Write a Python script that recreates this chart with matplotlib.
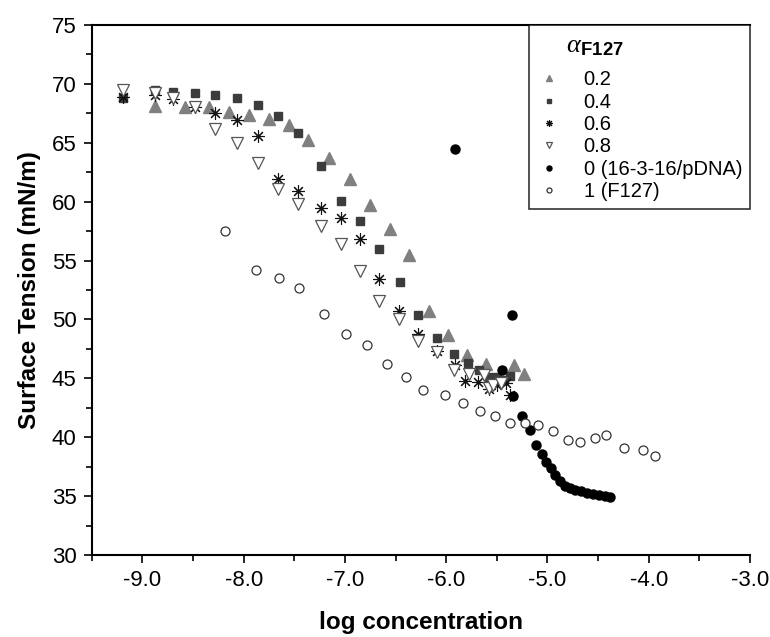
import matplotlib
matplotlib.use("Agg")
import matplotlib.pyplot as plt

plt.rcParams['font.family'] = ['Liberation Sans', 'DejaVu Sans']
plt.rcParams['mathtext.fontset'] = 'custom'
plt.rcParams['mathtext.it'] = 'Liberation Serif:italic'
plt.rcParams['mathtext.rm'] = 'Liberation Serif'
plt.rcParams['mathtext.bf'] = 'Liberation Sans:bold'

# alpha = 0.2
x02 = [-8.88, -8.58, -8.34, -8.14, -7.95, -7.75, -7.55, -7.36, -7.16, -6.95, -6.75,
       -6.55, -6.37, -6.17, -5.98, -5.79, -5.61, -5.33, -5.23]
y02 = [68.1, 68.0, 68.0, 67.6, 67.4, 67.0, 66.5, 65.2, 63.7, 61.9, 59.7,
       57.7, 55.5, 50.7, 48.7, 47.0, 46.2, 46.1, 45.4]
# alpha = 0.4
x04 = [-9.19, -8.88, -8.70, -8.48, -8.28, -8.07, -7.86, -7.66, -7.46, -7.24, -7.04,
       -6.85, -6.66, -6.46, -6.28, -6.09, -5.92, -5.78, -5.68, -5.58, -5.50, -5.43, -5.37]
y04 = [68.8, 69.5, 69.3, 69.25, 69.1, 68.8, 68.2, 67.3, 65.8, 63.0, 60.1,
       58.4, 56.0, 53.2, 50.4, 48.4, 47.1, 46.3, 45.7, 45.1, 45.1, 44.9, 45.2]
# alpha = 0.6
x06 = [-9.19, -8.88, -8.70, -8.48, -8.28, -8.07, -7.86, -7.66, -7.46, -7.24, -7.04,
       -6.85, -6.66, -6.47, -6.28, -6.09, -5.91, -5.81, -5.69, -5.58, -5.50, -5.41, -5.37]
y06 = [68.9, 69.1, 68.7, 68.0, 67.5, 66.9, 65.6, 61.9, 60.9, 59.5, 58.6,
       56.8, 53.4, 50.7, 48.8, 47.3, 46.1, 44.8, 44.7, 44.1, 44.4, 44.6, 43.6]
# alpha = 0.8
x08 = [-9.19, -8.88, -8.70, -8.48, -8.28, -8.07, -7.86, -7.66, -7.46, -7.24, -7.04,
       -6.85, -6.66, -6.47, -6.28, -6.09, -5.92, -5.77, -5.63, -5.58, -5.54, -5.46]
y08 = [69.5, 69.2, 68.8, 68.0, 66.2, 65.0, 63.3, 61.1, 59.8, 57.9, 56.4,
       54.1, 51.6, 50.0, 48.2, 47.2, 45.7, 45.4, 45.3, 44.2, 44.4, 44.6]
# alpha = 0 (16-3-16/pDNA)
x0 = [-5.91, -5.35, -5.45, -5.34, -5.25, -5.17, -5.11, -5.05, -5.01, -4.97, -4.93,
      -4.88, -4.83, -4.78, -4.73, -4.67, -4.61, -4.55, -4.49, -4.43, -4.38]
y0 = [64.5, 50.4, 45.7, 43.5, 41.8, 40.6, 39.3, 38.6, 37.9, 37.4, 36.8,
      36.3, 35.9, 35.7, 35.5, 35.4, 35.3, 35.2, 35.1, 35.0, 34.95]
# alpha = 1 (F127)
x1 = [-8.18, -7.88, -7.65, -7.45, -7.21, -6.99, -6.78, -6.58, -6.40, -6.23, -6.01,
      -5.83, -5.67, -5.52, -5.37, -5.22, -5.09, -4.95, -4.80, -4.68, -4.53, -4.42,
      -4.24, -4.06, -3.94]
y1 = [57.5, 54.2, 53.5, 52.7, 50.5, 48.8, 47.8, 46.2, 45.1, 44.0, 43.6,
      42.9, 42.2, 41.8, 41.2, 41.2, 41.0, 40.5, 39.8, 39.6, 39.9, 40.2,
      39.1, 38.9, 38.4]

fig = plt.figure(figsize=(7.7, 6.37), dpi=100)
ax = fig.add_axes([0.1191, 0.1287, 0.855, 0.832])

ax.plot(x02, y02, ls='none', marker='^', ms=8, color='#808080', mec='#808080', label='0.2')
ax.plot(x04, y04, ls='none', marker='s', ms=6, color='#3c3c3c', mec='#3c3c3c', label='0.4')
ax.plot(x06, y06, ls='none', marker=(8, 2, 0), ms=9, mew=0.8, color='#111111', label='0.6')
ax.plot(x08, y08, ls='none', marker='v', ms=8, mfc='white', mec='#555555', mew=0.9, label='0.8')
ax.plot(x0, y0, ls='none', marker='o', ms=6.5, color='black', label='0 (16-3-16/pDNA)')
ax.plot(x1, y1, ls='none', marker='o', ms=6.5, mfc='white', mec='#333333', mew=0.9, label='1 (F127)')

ax.set_xlim(-9.5, -3.0)
ax.set_ylim(30, 75)
ax.set_xticks([-9, -8, -7, -6, -5, -4, -3])
ax.set_xticklabels(['-9.0', '-8.0', '-7.0', '-6.0', '-5.0', '-4.0', '-3.0'])
ax.set_xticks([-9.5, -8.5, -7.5, -6.5, -5.5, -4.5, -3.5], minor=True)
ax.set_yticks(range(30, 80, 5))
ax.set_yticks([32.5, 37.5, 42.5, 47.5, 52.5, 57.5, 62.5, 67.5, 72.5], minor=True)
ax.tick_params(which='both', direction='out', top=False, right=False, width=1.2, labelsize=16)
ax.tick_params(which='major', length=6, pad=5)
ax.tick_params(which='minor', length=4)
for s in ['left', 'bottom', 'top']:
    ax.spines[s].set_linewidth(1.5)
ax.spines['right'].set_visible(False)

ax.set_xlabel('log concentration', fontsize=17.5, fontweight='bold', labelpad=14)
ax.set_ylabel('Surface Tension (mN/m)', fontsize=17.5, fontweight='bold', labelpad=8)

leg = ax.legend(loc='upper right', bbox_to_anchor=(1.0, 1.0), borderaxespad=0,
                title=r'$\quad\;\;\alpha_{\mathbf{F127}}$', title_fontsize=19, fontsize=14.5,
                markerscale=0.55, frameon=True, fancybox=False, handlelength=1.2,
                handletextpad=1.1, labelspacing=0.17, borderpad=0.4, alignment='left')
leg.get_frame().set_edgecolor('black')
leg.get_frame().set_linewidth(1.2)
leg._legend_box.sep = 9

fig.savefig('out.png', dpi=100)
